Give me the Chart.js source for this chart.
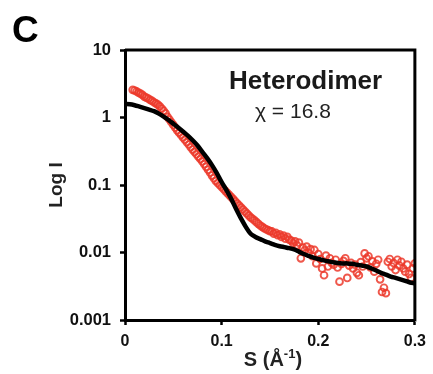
<!DOCTYPE html>
<html>
<head>
<meta charset="utf-8">
<script src="https://cdn.jsdelivr.net/npm/chart.js@4.4.1/dist/chart.umd.min.js"></script>
<style>
  html, body { margin: 0; padding: 0; background: #ffffff; }
  #c { display: block; }
</style>
</head>
<body>
<canvas id="c" width="433" height="374"></canvas>
<script>
// ---- Data ----
// Experimental scattering curve (red open circles): S (1/Å) and intensity
const sData = [
  0.008, 0.010, 0.012, 0.014, 0.016, 0.018, 0.020, 0.022, 0.024, 0.026,
  0.028, 0.030, 0.032, 0.034, 0.036, 0.038, 0.040, 0.042, 0.044, 0.046,
  0.048, 0.050, 0.052, 0.054, 0.056, 0.058, 0.060, 0.062, 0.064, 0.066,
  0.068, 0.070, 0.072, 0.074, 0.076, 0.078, 0.080, 0.082, 0.084, 0.086,
  0.088, 0.090, 0.092, 0.094, 0.096, 0.098, 0.100, 0.102, 0.104, 0.106,
  0.108, 0.110, 0.112, 0.114, 0.116, 0.118, 0.120, 0.122, 0.124, 0.126,
  0.128, 0.130, 0.132, 0.134, 0.136, 0.138, 0.140, 0.142, 0.144, 0.146,
  0.148, 0.150, 0.152, 0.154, 0.156, 0.158, 0.160, 0.162, 0.164, 0.166,
  0.168, 0.170, 0.172, 0.174, 0.176, 0.178, 0.180, 0.182, 0.184, 0.186,
  0.188, 0.190, 0.192, 0.194, 0.196, 0.198, 0.200, 0.202, 0.204, 0.206,
  0.208, 0.210, 0.212, 0.214, 0.216, 0.218, 0.220, 0.222, 0.224, 0.226,
  0.228, 0.230, 0.232, 0.234, 0.236, 0.238, 0.240, 0.242, 0.244, 0.246,
  0.248, 0.250, 0.252, 0.254, 0.256, 0.258, 0.260, 0.262, 0.264, 0.266,
  0.268, 0.270, 0.272, 0.274, 0.276, 0.278, 0.280, 0.282, 0.284, 0.286,
  0.288, 0.290, 0.292, 0.294, 0.296, 0.298, 0.300
];
const iData = [
  2.57, 2.51, 2.43, 2.34, 2.26, 2.16, 2.04, 1.97, 1.91, 1.82,
  1.76, 1.68, 1.62, 1.55, 1.46, 1.36, 1.26, 1.15, 1.02, 0.933,
  0.851, 0.776, 0.708, 0.646, 0.596, 0.550, 0.507, 0.468, 0.432, 0.398,
  0.363, 0.335, 0.309, 0.285, 0.263, 0.243, 0.224, 0.204, 0.186, 0.168,
  0.153, 0.138, 0.126, 0.115, 0.107, 0.100, 0.0933, 0.0871, 0.0813, 0.0759,
  0.0708, 0.0661, 0.0617, 0.0575, 0.0537, 0.0501, 0.0468, 0.0437, 0.0407, 0.0380,
  0.0355, 0.0331, 0.0316, 0.0299, 0.0282, 0.0266, 0.0251, 0.0240, 0.0229, 0.0221,
  0.0214, 0.0207, 0.0205, 0.0190, 0.0196, 0.0180, 0.0186, 0.0170, 0.0178, 0.0160,
  0.0170, 0.0155, 0.0150, 0.0138, 0.0146, 0.0128, 0.0140, 0.0082, 0.0118, 0.0108,
  0.0122, 0.0098, 0.0112, 0.0088, 0.0109, 0.0069, 0.0095, 0.0080, 0.0058, 0.0046,
  0.0090, 0.0062, 0.0082, 0.0070, 0.0066, 0.0078, 0.0060, 0.0037, 0.0068, 0.0075,
  0.0082, 0.0042, 0.0064, 0.0070, 0.0058, 0.0066, 0.0050, 0.0046, 0.0072, 0.0062,
  0.0097, 0.0082, 0.0088, 0.0060, 0.0074, 0.0052, 0.0068, 0.0078, 0.0040, 0.0026,
  0.0030, 0.0025, 0.0073, 0.0080, 0.0062, 0.0070, 0.0055, 0.0078, 0.0064, 0.0073,
  0.0058, 0.0052, 0.0066, 0.0048, 0.0042, 0.0058, 0.0069
];
// Model fit (black line)
const sFit = [
  0.000, 0.005, 0.010, 0.015, 0.020, 0.025, 0.030, 0.035, 0.040, 0.045,
  0.050, 0.055, 0.060, 0.065, 0.070, 0.075, 0.080, 0.085, 0.090, 0.095,
  0.100, 0.105, 0.110, 0.115, 0.120, 0.125, 0.130, 0.135, 0.140, 0.145,
  0.150, 0.155, 0.160, 0.165, 0.170, 0.175, 0.180, 0.185, 0.190, 0.195,
  0.200, 0.205, 0.210, 0.215, 0.220, 0.225, 0.230, 0.235, 0.240, 0.245,
  0.250, 0.255, 0.260, 0.265, 0.270, 0.275, 0.280, 0.285, 0.290, 0.295,
  0.300
];
const iFit = [
  1.58, 1.57, 1.52, 1.45, 1.38, 1.31, 1.24, 1.14, 1.03, 0.92,
  0.81, 0.71, 0.62, 0.54, 0.46, 0.385, 0.31, 0.25, 0.197, 0.150,
  0.110, 0.084, 0.062, 0.044, 0.032, 0.024, 0.019, 0.0170, 0.0158, 0.0146,
  0.0138, 0.0130, 0.0124, 0.0120, 0.0116, 0.0111, 0.0103, 0.0095, 0.0089, 0.0084,
  0.0080, 0.0077, 0.0074, 0.0072, 0.0070, 0.0069, 0.0069, 0.0068, 0.0066, 0.0064,
  0.0062, 0.0058, 0.0054, 0.0050, 0.0047, 0.0044, 0.0042, 0.0040, 0.0038, 0.0036,
  0.0035
];
// Axis ticks and labels
const xTicks = [0, 0.1, 0.2, 0.3];
const xTickLabels = ['0', '0.1', '0.2', '0.3'];
const yTicks = [0.001, 0.01, 0.1, 1, 10];
const yTickLabels = ['0.001', '0.01', '0.1', '1', '10'];
const panelLabel = 'C';
const sampleName = 'Heterodimer';
const chiText = 'χ = 16.8';
const xTitleMain = 'S (Å';
const xTitleSup = '-1';
const xTitleEnd = ')';
const yTitle = 'Log I';

// ---- Chart ----
const FONT = '"Liberation Sans", Arial, Helvetica, sans-serif';
const expPoints = sData.map((s, i) => ({ x: s, y: iData[i] }));
const fitPoints = sFit.map((s, i) => ({ x: s, y: iFit[i] }));

const annotations = {
  id: 'annotations',
  afterDraw(chart) {
    const { ctx, chartArea: a } = chart;
    ctx.save();
    // top and right frame
    ctx.strokeStyle = '#000';
    ctx.lineWidth = 3;
    ctx.beginPath();
    ctx.moveTo(a.left, a.top);
    ctx.lineTo(a.right, a.top);
    ctx.lineTo(a.right, a.bottom + 1.5);
    ctx.stroke();

    ctx.fillStyle = '#000';
    ctx.textBaseline = 'alphabetic';
    ctx.textAlign = 'left';
    // panel letter
    ctx.font = 'bold 37px ' + FONT;
    ctx.fillText(panelLabel, 12, 42);
    // sample name
    ctx.font = 'bold 26px ' + FONT;
    ctx.fillStyle = '#1a1a1a';
    ctx.fillText(sampleName, 229, 89);
    // chi value
    ctx.font = '21px ' + FONT;
    ctx.fillStyle = '#222';
    ctx.fillText(chiText, 255, 118);

    // x axis title with superscript
    ctx.fillStyle = '#222';
    const mainFont = 'bold 20px ' + FONT;
    const supFont = 'bold 13px ' + FONT;
    ctx.font = mainFont;
    const w1 = ctx.measureText(xTitleMain).width;
    const w3 = ctx.measureText(xTitleEnd).width;
    ctx.font = supFont;
    const w2 = ctx.measureText(xTitleSup).width;
    const total = w1 + w2 + w3;
    const cx = (a.left + a.right) / 2 + 3;
    let x = cx - total / 2;
    const base = 366;
    ctx.font = mainFont;
    ctx.fillText(xTitleMain, x, base);
    x += w1;
    ctx.font = supFont;
    ctx.fillText(xTitleSup, x, base - 8);
    x += w2;
    ctx.font = mainFont;
    ctx.fillText(xTitleEnd, x, base);
    ctx.restore();
  }
};

new Chart(document.getElementById('c'), {
  type: 'scatter',
  data: {
    datasets: [
      {
        label: 'Fit',
        data: fitPoints,
        showLine: true,
        borderColor: '#000000',
        borderWidth: 4.5,
        pointRadius: 0,
        tension: 0.35,
        fill: false
      },
      {
        label: 'Experimental',
        data: expPoints,
        showLine: false,
        pointStyle: 'circle',
        pointRadius: 3.4,
        pointBorderWidth: 1.9,
        pointBackgroundColor: 'rgba(0,0,0,0)',
        pointBorderColor: 'rgba(236,58,44,0.85)'
      }
    ]
  },
  options: {
    responsive: false,
    animation: false,
    devicePixelRatio: 1,
    layout: { padding: { top: 50, right: 18, bottom: 0, left: 0 } },
    plugins: {
      legend: { display: false },
      tooltip: { enabled: false }
    },
    scales: {
      x: {
        type: 'linear',
        min: 0,
        max: 0.3,
        afterBuildTicks: (s) => { s.ticks = xTicks.map(v => ({ value: v })); },
        afterFit: (s) => { s.height = 54; },
        ticks: {
          color: '#111',
          font: { family: FONT, size: 16, weight: 'bold' },
          padding: 7,
          maxRotation: 0,
          callback: (v) => { const k = xTicks.findIndex(t => Math.abs(t - v) < 1e-9); return k >= 0 ? xTickLabels[k] : ''; }
        },
        grid: { drawOnChartArea: false, drawTicks: true, tickLength: 5, tickWidth: 2.5, tickColor: '#000' },
        border: { color: '#000', width: 3 },
        title: { display: false }
      },
      y: {
        type: 'logarithmic',
        min: 0.001,
        max: 10,
        afterBuildTicks: (s) => { s.ticks = yTicks.map(v => ({ value: v })); },
        afterFit: (s) => { s.width = 125; },
        ticks: {
          color: '#111',
          font: { family: FONT, size: 16.5, weight: 'bold' },
          padding: 9,
          callback: (v) => { const k = yTicks.findIndex(t => Math.abs(t - v) / t < 1e-6); return k >= 0 ? yTickLabels[k] : ''; }
        },
        grid: { drawOnChartArea: false, drawTicks: true, tickLength: 5, tickWidth: 2.5, tickColor: '#000' },
        border: { color: '#000', width: 3 },
        title: {
          display: true,
          text: yTitle,
          color: '#222',
          font: { family: FONT, size: 19, weight: 'bold' },
          padding: { top: 45, bottom: 0 }
        }
      }
    }
  },
  plugins: [annotations]
});
</script>
</body>
</html>
